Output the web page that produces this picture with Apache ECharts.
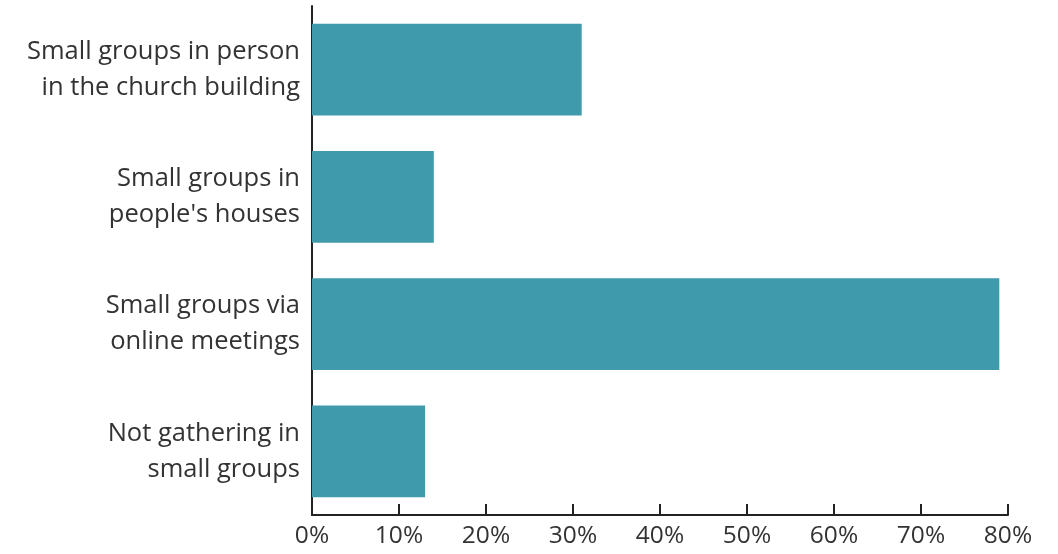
<!DOCTYPE html>
<html>
<head>
<meta charset="utf-8">
<script src="https://cdn.jsdelivr.net/npm/echarts@6/dist/echarts.min.js"></script>
<style>
  html, body { margin: 0; padding: 0; background: #fff; }
  #main { width: 1058px; height: 554px; }
</style>
</head>
<body>
<div id="main"></div>
<script>
// data
var categories = [
  'Small groups in person\nin the church building',
  'Small groups in\npeople\'s houses',
  'Small groups via\nonline meetings',
  'Not gathering in\nsmall groups'
];
var values = [31, 14, 79, 13];
var tickMin = 0, tickMax = 80, tickStep = 10;

var myChart = echarts.init(document.getElementById('main'));
var option = {
  animation: false,
  textStyle: { fontFamily: 'Open Sans' },
  grid: { left: 312, right: 50, top: 6, bottom: 39, containLabel: false },
  xAxis: {
    type: 'value',
    min: tickMin,
    max: tickMax,
    interval: tickStep,
    splitLine: { show: false },
    axisLine: { show: true, lineStyle: { color: '#222', width: 2 } },
    axisTick: { show: true, inside: true, length: 11, lineStyle: { color: '#222', width: 2 } },
    axisLabel: {
      formatter: '{value}%',
      color: '#333',
      fontSize: 24.5,
      margin: 9,
      fontFamily: 'Open Sans'
    }
  },
  yAxis: {
    type: 'category',
    inverse: true,
    data: categories,
    axisLine: { show: true, lineStyle: { color: '#222', width: 2 } },
    axisTick: { show: false },
    axisLabel: {
      color: '#333',
      fontSize: 25.5,
      lineHeight: 36,
      margin: 12,
      fontFamily: 'Open Sans'
    }
  },
  series: [{
    type: 'bar',
    data: values,
    barCategoryGap: '28%',
    itemStyle: { color: '#3f9aab' }
  }]
};
myChart.setOption(option);
</script>
</body>
</html>
